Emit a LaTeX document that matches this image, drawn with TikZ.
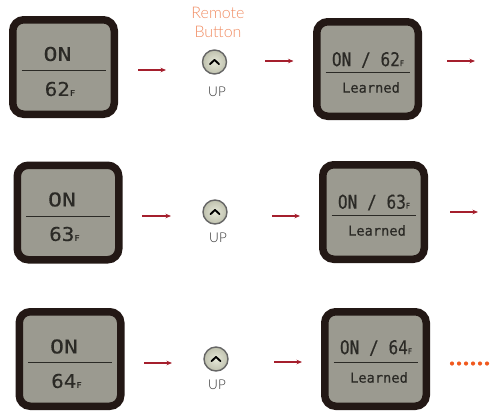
\documentclass[tikz,border=0pt]{standalone}
\usepackage{fontspec}
\usepackage{xcolor}
\usetikzlibrary{arrows.meta, calc}
\newfontfamily\labelfont{Lato}[UprightFont=* Light]
\newfontfamily\lcdwide{DejaVu Sans Mono}[FakeStretch=1.22, FakeBold=0.4]
\newfontfamily\lcdmid{DejaVu Sans Mono}[FakeStretch=1.1, FakeBold=0.4]
\newfontfamily\lcdnarrow{DejaVu Sans Mono}[FakeStretch=0.85, FakeBold=0.3]
\newfontfamily\lcdsmall{DejaVu Sans Mono}[FakeBold=0.4]
\definecolor{framecol}{HTML}{231815}
\definecolor{lcdcol}{HTML}{9B9A90}
\definecolor{inkcol}{HTML}{2B2A26}
\definecolor{arrowcol}{HTML}{A51F2D}
\definecolor{remotecol}{HTML}{F08C62}
\definecolor{dotcol}{HTML}{F0591E}
\definecolor{btnpale}{HTML}{E6E8D8}
\definecolor{btnedge}{HTML}{BFC1AE}
\tikzset{
    screen/.style={draw=framecol, fill=lcdcol, line width=7.5pt, rounded corners=11pt,
        minimum width=101.5pt, minimum height=94.5pt, inner sep=0pt, outer sep=3.75pt},
    lcdrule/.style={draw=inkcol, line width=1pt, shorten <=12.5pt, shorten >=12.5pt},
    ontext/.style={font=\lcdwide\fontsize{19}{19}\selectfont, text=inkcol, inner sep=0pt},
    temptext/.style={font=\lcdmid\fontsize{19}{19}\selectfont, text=inkcol, inner sep=0pt},
    statetext/.style={font=\lcdnarrow\fontsize{19}{19}\selectfont, text=inkcol, inner sep=0pt},
    smalltext/.style={font=\lcdsmall\fontsize{13.7}{14}\selectfont, text=inkcol, inner sep=0pt},
    flowarrow/.style={draw=arrowcol, line width=1.4pt, -{Stealth[length=5.5pt, width=4.5pt]}},
    remote/.style={circle, draw=black!60, line width=1.4pt, minimum size=24pt, inner sep=0pt,
        inner color=btnpale, outer color=btnedge},
    chevron/.style={draw=black, line width=1.8pt, line cap=round, line join=round},
    uplabel/.style={font=\labelfont\fontsize{13.5}{14}\selectfont, text=black!80, inner sep=0pt},
    remotelabel/.style={font=\labelfont\fontsize{16}{19}\selectfont, text=remotecol, align=center, inner sep=0pt},
    dot/.style={circle, fill=dotcol, minimum size=4.2pt, inner sep=0pt}
}
\newcommand{\unitF}{{\fontsize{8}{8}\selectfont F}}
\begin{document}
\begin{tikzpicture}[x=1pt, y=-1pt]
    \useasboundingbox (0,0) rectangle (495,410);
    % first row
    \node[remotelabel] (title) at (218,22.5) {Remote\\Button};
    \node[screen] (scrA) at (63.5,67) {};
    \draw[lcdrule] ([yshift=-3pt]scrA.west) -- ([yshift=-3pt]scrA.east);
    \node[ontext] (onA) at (57.5,54) {ON};
    \node[temptext] (tempA) at (60,89) {62\unitF};
    \coordinate (a1) at (138,70);
    \coordinate (a2) at (166,70);
    \draw[flowarrow] (a1) -- (a2);
    \node[remote] (btnA) at (214.5,62) {};
    \draw[chevron] ($(btnA)+(-4.5,2.2)$) -- ($(btnA)+(0,-2.2)$) -- ($(btnA)+(4.5,2.2)$);
    \node[uplabel] (upA) at (217,92) {UP};
    \coordinate (a3) at (265,61);
    \coordinate (a4) at (293.5,61);
    \draw[flowarrow] (a3) -- (a4);
    \node[screen] (scrB) at (367.5,69) {};
    \draw[lcdrule] ([yshift=-3pt]scrB.west) -- ([yshift=-3pt]scrB.east);
    \node[statetext] (stateB) at (368,60) {ON / 62\unitF};
    \node[smalltext] (learnB) at (371,87.5) {Learned};
    \coordinate (a5) at (447,61);
    \coordinate (a6) at (475,61);
    \draw[flowarrow] (a5) -- (a6);
    % second row
    \node[screen] (scrC) at (68,212.5) {};
    \draw[lcdrule] ([yshift=-3.5pt]scrC.west) -- ([yshift=-3.5pt]scrC.east);
    \node[ontext] (onC) at (62,199.5) {ON};
    \node[temptext] (tempC) at (64.5,234) {63\unitF};
    \coordinate (a7) at (142,216);
    \coordinate (a8) at (171,216);
    \draw[flowarrow] (a7) -- (a8);
    \node[remote] (btnC) at (215,212) {};
    \draw[chevron] ($(btnC)+(-4.5,2.2)$) -- ($(btnC)+(0,-2.2)$) -- ($(btnC)+(4.5,2.2)$);
    \node[uplabel] (upC) at (218,238) {UP};
    \coordinate (a9) at (272,216);
    \coordinate (a10) at (300,216);
    \draw[flowarrow] (a9) -- (a10);
    \node[screen] (scrD) at (373.5,212) {};
    \draw[lcdrule] ([yshift=-3pt]scrD.west) -- ([yshift=-3pt]scrD.east);
    \node[statetext] (stateD) at (374,202.5) {ON / 63\unitF};
    \node[smalltext] (learnD) at (377,230.5) {Learned};
    \coordinate (a11) at (450,212);
    \coordinate (a12) at (478,212);
    \draw[flowarrow] (a11) -- (a12);
    % third row
    \node[screen] (scrE) at (70,359) {};
    \draw[lcdrule] ([yshift=-3pt]scrE.west) -- ([yshift=-3pt]scrE.east);
    \node[ontext] (onE) at (64,346.5) {ON};
    \node[temptext] (tempE) at (66.5,381) {64\unitF};
    \coordinate (a13) at (144,363);
    \coordinate (a14) at (172,363);
    \draw[flowarrow] (a13) -- (a14);
    \node[remote] (btnE) at (216,359) {};
    \draw[chevron] ($(btnE)+(-4.5,2.2)$) -- ($(btnE)+(0,-2.2)$) -- ($(btnE)+(4.5,2.2)$);
    \node[uplabel] (upE) at (217,385) {UP};
    \coordinate (a15) at (274,362);
    \coordinate (a16) at (302,362);
    \draw[flowarrow] (a15) -- (a16);
    \node[screen] (scrF) at (375.5,359) {};
    \draw[lcdrule] ([yshift=-3pt]scrF.west) -- ([yshift=-3pt]scrF.east);
    \node[statetext] (stateF) at (376,348) {ON / 64\unitF};
    \node[smalltext] (learnF) at (379,377.5) {Learned};
    \node[dot] (d1) at (452,363.5) {};
    \node[dot] (d2) at (459,363.5) {};
    \node[dot] (d3) at (466,363.5) {};
    \node[dot] (d4) at (473,363.5) {};
    \node[dot] (d5) at (480,363.5) {};
    \node[dot] (d6) at (487,363.5) {};
\end{tikzpicture}
\end{document}
